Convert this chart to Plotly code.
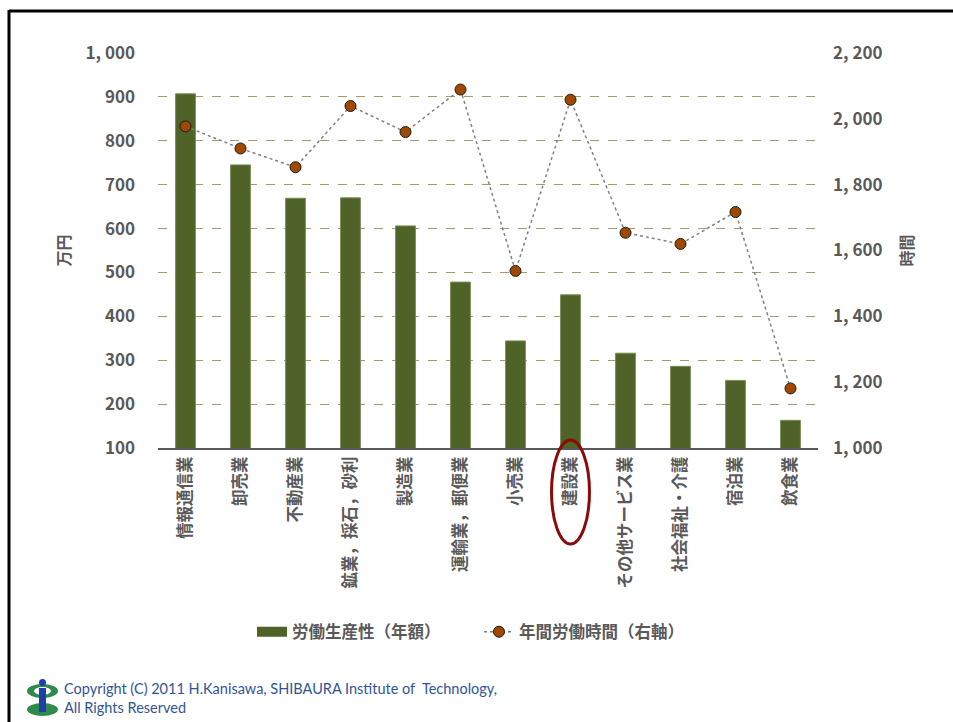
import plotly.graph_objects as go

# ---- data ----
categories = ["情報通信業", "卸売業", "不動産業", "鉱業，採石，砂利", "製造業",
              "運輸業，郵便業", "小売業", "建設業", "その他サービス業",
              "社会福祉・介護", "宿泊業", "飲食業"]
productivity = [907, 745, 669, 670, 606, 478, 344, 449, 316, 286, 254, 163]   # 万円
work_hours = [1977, 1910, 1853, 2039, 1960, 2089, 1538, 2058, 1654, 1620, 1717, 1181]  # 時間

left_tickvals = [100, 200, 300, 400, 500, 600, 700, 800, 900, 1000]
left_ticktext = ["100", "200", "300", "400", "500", "600", "700", "800", "900", "1, 000"]
right_tickvals = [1000, 1200, 1400, 1600, 1800, 2000, 2200]
right_ticktext = ["1, 000", "1, 200", "1, 400", "1, 600", "1, 800", "2, 000", "2, 200"]

bar_name = "労働生産性（年額）"
line_name = "年間労働時間（右軸）"
copyright_text = "Copyright (C) 2011 H.Kanisawa, SHIBAURA Institute of  Technology,<br>All Rights Reserved"

# ---- layout geometry ----
W, H = 953, 722
L, R, T, B = 158, 818, 53, 448

def px(xp):
    return (xp - L) / (R - L)

def py(yp):
    return (B - yp) / (B - T)

GRAY = "#595959"
BAR = "#4F6228"
MARK = "#9E4800"
CJK = "Noto Sans CJK JP"

fig = go.Figure()
fig.add_trace(go.Bar(
    x=categories, y=productivity, name=bar_name, showlegend=False,
    marker=dict(color=BAR, line=dict(color="#7A8C55", width=1)),
    width=0.36, yaxis="y",
))
# legend proxy for bar (wide rectangle swatch)
fig.add_trace(go.Scatter(
    x=[None], y=[None], mode="lines", name=bar_name,
    line=dict(color=BAR, width=10), yaxis="y",
))
fig.add_trace(go.Scatter(
    x=categories, y=work_hours, name=line_name, mode="lines+markers",
    line=dict(color="#808080", width=1.5, dash="dot"),
    marker=dict(color=MARK, size=11, line=dict(color="#1a1a1a", width=1)),
    yaxis="y2",
))

shapes = [
    # outer frame (top & left visible)
    dict(type="line", xref="paper", yref="paper", x0=px(9), x1=px(960), y0=py(11), y1=py(11),
         line=dict(color="black", width=3)),
    dict(type="line", xref="paper", yref="paper", x0=px(9), x1=px(9), y0=py(10), y1=py(730),
         line=dict(color="black", width=3)),
    # highlight ellipse around 建設業
    dict(type="circle", xref="x", yref="paper", x0=6.655, x1=7.345, y0=py(440), y1=py(544),
         line=dict(color="#8B0A0A", width=3)),
    # logo
    dict(type="circle", xref="paper", yref="paper", x0=px(27), x1=px(58), y0=py(716), y1=py(703),
         fillcolor="#2E8B4A", line=dict(width=0)),
    dict(type="circle", xref="paper", yref="paper", x0=px(27), x1=px(58), y0=py(698), y1=py(684),
         fillcolor="#2E8B4A", line=dict(width=0)),
    dict(type="circle", xref="paper", yref="paper", x0=px(34), x1=px(51), y0=py(695), y1=py(687),
         fillcolor="white", line=dict(width=0)),
    dict(type="rect", xref="paper", yref="paper", x0=px(39), x1=px(46), y0=py(712), y1=py(688),
         fillcolor="#1F3FA8", line=dict(width=0)),
    dict(type="circle", xref="paper", yref="paper", x0=px(39), x1=px(46), y0=py(686), y1=py(679),
         fillcolor="#1F3FA8", line=dict(width=0)),
]

fig.update_layout(
    width=W, height=H,
    margin=dict(l=L, r=W - R, t=T, b=H - B, pad=0),
    paper_bgcolor="white", plot_bgcolor="white",
    font=dict(family=CJK, color=GRAY),
    bargap=0.64,
    xaxis=dict(
        type="category", showgrid=False, showline=True, linecolor=GRAY, linewidth=2,
        ticks="", tickangle=-90,
        tickfont=dict(family=CJK, size=16.5, color=GRAY, weight="bold"),
        range=[-0.5, 11.5],
    ),
    yaxis=dict(
        range=[100, 1000], tickvals=left_tickvals, ticktext=left_ticktext,
        showgrid=True, gridcolor="#A49B6C", griddash="dash", gridwidth=1,
        zeroline=False, showline=False, ticks="",
        tickfont=dict(family=CJK, size=17, color=GRAY, weight="bold"),
        ticklabelstandoff=22,
        title=dict(text="万円", font=dict(family=CJK, size=16, color=GRAY, weight="bold"), standoff=10),
    ),
    yaxis2=dict(
        overlaying="y", side="right", range=[1000, 2200],
        tickvals=right_tickvals, ticktext=right_ticktext,
        showgrid=False, zeroline=False, showline=False, ticks="",
        tickfont=dict(family=CJK, size=17, color=GRAY, weight="bold"),
        ticklabelstandoff=14,
        title=dict(text="時間", font=dict(family=CJK, size=16, color=GRAY, weight="bold"), standoff=20),
    ),
    legend=dict(
        orientation="h", x=px(252), xanchor="left", y=py(632), yanchor="middle",
        font=dict(family=CJK, size=16.5, color=GRAY, weight="bold"),
        itemwidth=30, bgcolor="rgba(0,0,0,0)",
        entrywidth=182, entrywidthmode="pixels",
    ),
    shapes=shapes,
    annotations=[
        dict(text=copyright_text, xref="paper", yref="paper", x=px(62), y=py(698),
             xanchor="left", yanchor="middle", showarrow=False, align="left",
             font=dict(family="Lato", size=14.5, color="#2F5597")),
    ],
)

fig.write_html("out.html")
